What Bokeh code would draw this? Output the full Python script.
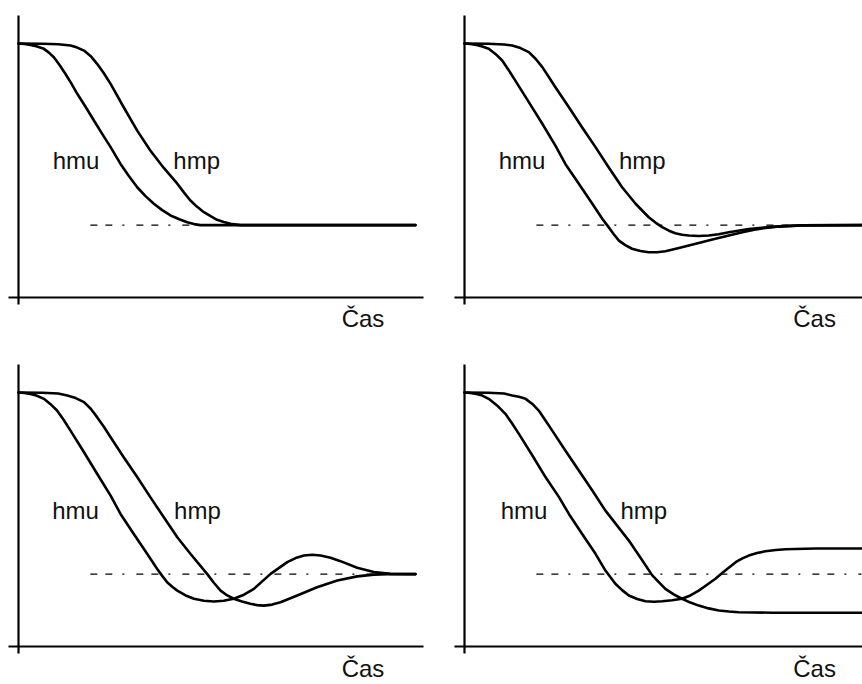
from bokeh.plotting import figure
from bokeh.layouts import column, row
from bokeh.models import LinearAxis, FixedTicker, Range1d
from bokeh.embed import file_html
from bokeh.resources import INLINE
from bokeh.core.properties import value

# ---------------- data (time in arbitrary units 0..10, level 0..100) ----------------
TIME_END = 10.0
SETPOINT = 28.5
DASH_START = 1.81

# Panel A (top-left): no overshoot
A_HMU_T = [0, 0.15, 0.3, 0.45, 0.64, 0.76, 0.89, 1.03, 1.18, 1.33, 1.48, 1.70, 1.90, 2.10, 2.32,
           2.57, 2.78, 2.99, 3.20, 3.41, 3.62, 3.83, 4.05, 4.25, 4.42, 4.58, 10]
A_HMU_H = [100, 99.8, 99.4, 98.9, 97.9, 96.5, 94.6, 91.6, 88.1, 84.3, 80.2, 74.8, 69.7, 64.6, 59.2,
           52.6, 47.8, 43.4, 39.9, 36.9, 34.4, 32.3, 30.8, 29.6, 28.9, 28.5, 28.5]
A_HMP_T = [0, 0.6, 1.0, 1.31, 1.48, 1.65, 1.82, 1.98, 2.15, 2.32, 2.65, 2.99, 3.32, 3.66, 4.00,
           4.17, 4.33, 4.50, 4.67, 4.85, 5.00, 5.17, 5.34, 5.59, 10]
A_HMP_H = [100, 99.9, 99.7, 99.2, 98.4, 97.2, 95.0, 92.0, 88.3, 84.1, 74.9, 65.7, 57.9, 51.0, 44.8,
           41.3, 38.2, 35.7, 33.6, 31.9, 30.6, 29.7, 29.0, 28.5, 28.5]

# Panel B (top-right): one undershoot
B_HMU_T = [0, 0.15, 0.3, 0.45, 0.61, 0.78, 0.95, 1.11, 1.28, 1.62, 1.96, 2.29, 2.54, 2.88, 3.22,
           3.47, 3.63, 3.76, 3.89, 4.05, 4.22, 4.43, 4.64, 4.85, 5.06, 5.35, 5.65, 6.32, 7.00,
           7.30, 7.58, 7.85, 8.09, 8.5, 10]
B_HMU_H = [100, 99.8, 99.4, 98.8, 97.9, 95.9, 93.3, 89.6, 85.4, 76.9, 68.4, 59.8, 52.6, 44.8, 36.9,
           31.0, 27.7, 24.9, 22.4, 20.6, 19.2, 18.3, 17.8, 17.8, 18.2, 19.3, 20.5, 23.1, 25.7,
           26.7, 27.4, 27.9, 28.1, 28.4, 28.5]
B_HMP_T = [0, 0.6, 1.0, 1.20, 1.41, 1.62, 1.79, 1.96, 2.12, 2.29, 2.63, 2.96, 3.30, 3.63, 3.97,
           4.31, 4.64, 4.81, 4.98, 5.15, 5.31, 5.48, 5.65, 5.90, 6.15, 6.40, 6.66, 7.16, 7.66,
           8.09, 8.5, 10]
B_HMP_H = [100, 99.9, 99.6, 99.2, 98.2, 96.6, 94.0, 90.7, 86.9, 82.8, 74.9, 67.0, 59.2, 51.3, 43.4,
           36.9, 31.6, 29.5, 27.7, 26.3, 25.3, 24.7, 24.4, 24.2, 24.4, 24.9, 25.7, 27.0, 27.7,
           28.1, 28.4, 28.5]

# Panel C (bottom-left): oscillation
C_HMU_T = [0, 0.15, 0.3, 0.45, 0.64, 0.80, 0.97, 1.14, 1.31, 1.65, 1.98, 2.32, 2.57, 2.90, 3.24,
           3.49, 3.62, 3.75, 3.88, 4.00, 4.21, 4.42, 4.67, 4.92, 5.17, 5.42, 5.68, 5.93, 6.35,
           6.77, 6.98, 7.19, 7.40, 7.61, 7.86, 8.11, 8.53, 8.95, 9.37, 10]
C_HMU_H = [100, 99.8, 99.4, 98.8, 97.5, 95.5, 92.9, 89.2, 85.0, 76.5, 68.0, 59.4, 52.2, 44.4, 36.5,
           30.6, 27.8, 25.2, 23.4, 22.0, 20.1, 18.8, 18.0, 17.7, 18.0, 18.8, 20.4, 22.7, 28.6,
           33.2, 34.8, 35.8, 36.1, 35.8, 34.9, 33.6, 31.0, 29.3, 28.6, 28.5]
C_HMP_T = [0, 0.6, 1.0, 1.23, 1.44, 1.65, 1.82, 1.98, 2.15, 2.32, 2.65, 2.99, 3.32, 3.66, 4.00,
           4.33, 4.75, 4.92, 5.09, 5.25, 5.42, 5.63, 5.84, 6.01, 6.18, 6.39, 6.60, 7.02, 7.52,
           8.03, 8.53, 8.95, 9.3, 10]
C_HMP_H = [100, 99.9, 99.6, 98.8, 97.8, 96.2, 93.6, 90.3, 86.5, 82.4, 74.5, 66.7, 58.8, 50.9, 43.0,
           36.5, 28.6, 25.1, 22.0, 20.2, 18.8, 17.7, 16.8, 16.3, 16.1, 16.5, 17.4, 20.1, 23.3,
           26.0, 27.6, 28.3, 28.5, 28.5]

# Panel D (bottom-right): curves settle apart
D_HMU_T = [0, 0.15, 0.3, 0.45, 0.61, 0.82, 1.03, 1.20, 1.37, 1.71, 2.04, 2.38, 2.63, 2.96, 3.30,
           3.55, 3.80, 3.97, 4.14, 4.35, 4.56, 4.77, 4.98, 5.23, 5.48, 5.69, 5.90, 6.11, 6.32,
           6.49, 6.83, 7.00, 7.16, 7.37, 7.58, 7.84, 8.09, 8.84, 10]
D_HMU_H = [100, 99.8, 99.4, 98.8, 97.5, 94.9, 91.6, 87.8, 83.7, 75.2, 66.7, 58.8, 52.2, 44.4, 36.5,
           29.9, 24.7, 22.2, 20.1, 18.7, 17.8, 17.6, 17.8, 18.2, 18.8, 20.1, 22.0, 24.3, 26.7,
           28.9, 33.2, 34.7, 35.8, 36.8, 37.5, 38.0, 38.3, 38.6, 38.6]
D_HMP_T = [0, 0.6, 1.0, 1.20, 1.37, 1.54, 1.71, 1.87, 2.04, 2.21, 2.54, 2.88, 3.22, 3.55, 4.14,
           4.48, 4.73, 5.06, 5.27, 5.48, 5.69, 5.90, 6.15, 6.41, 6.66, 6.91, 7.3, 7.75, 10]
D_HMP_H = [100, 99.9, 99.6, 98.8, 98.3, 97.5, 95.5, 92.9, 89.0, 85.0, 77.2, 69.3, 61.4, 53.5, 41.7,
           33.9, 28.0, 22.7, 20.5, 18.8, 17.3, 16.1, 15.0, 14.2, 13.8, 13.5, 13.4, 13.3, 13.3]

LABEL_TEXT = ["hmu", "hmp", "Čas"]
A_LABEL_T = [0.86, 3.90, 8.14]
A_LABEL_H = [53.9, 53.9, -8.3]
B_LABEL_T = [0.86, 3.89, 8.28]
B_LABEL_H = [53.9, 53.9, -8.3]
C_LABEL_T = [0.85, 3.92, 8.14]
C_LABEL_H = [53.5, 53.5, -8.7]
D_LABEL_T = [0.91, 3.93, 8.28]
D_LABEL_H = [53.5, 53.5, -8.7]

# ---------------- layout ----------------
W, H = 431, 342
PX_PER_T = 39.7
PX_PER_H = 2.54
X_AXIS_BOUNDS = (-0.25, 10.2)
Y_AXIS_BOUNDS = (-2.6, 111.2)
FONT = "Liberation Sans"


def make_panel(left_px, top_px, origin_px, curves, label_t, label_h):
    ox, oy = origin_px
    x0 = (left_px - ox) / PX_PER_T
    x1 = (left_px + W - ox) / PX_PER_T
    y0 = (oy - (top_px + H)) / PX_PER_H
    y1 = (oy - top_px) / PX_PER_H
    p = figure(width=W, height=H, x_range=Range1d(x0, x1), y_range=Range1d(y0, y1),
               x_axis_type=None, y_axis_type=None, toolbar_location=None,
               output_backend="svg", min_border=0, outline_line_color=None,
               background_fill_color="white", border_fill_color="white")
    common = dict(ticker=FixedTicker(ticks=[]), axis_line_width=2.2, axis_line_color="black",
                  major_tick_line_color=None, minor_tick_line_color=None,
                  major_label_text_font_size="0px")
    xa = LinearAxis(fixed_location=0, bounds=X_AXIS_BOUNDS, **common)
    ya = LinearAxis(fixed_location=0, bounds=Y_AXIS_BOUNDS, **common)
    p.add_layout(xa, "below")
    p.add_layout(ya, "left")

    p.line([DASH_START, TIME_END], [SETPOINT, SETPOINT], line_color="black",
           line_width=1.3, line_dash="7 8 7 10 2 12")
    for t, h in curves:
        p.line(t, h, line_color="black", line_width=2.6, line_join="round", line_cap="round")
    p.text(x=label_t, y=label_h, text=LABEL_TEXT, text_font=value(FONT),
           text_font_size="24px", text_align="left", text_baseline="alphabetic",
           text_color="#111111")
    return p


pA = make_panel(0, 0, (18, 297), [(A_HMU_T, A_HMU_H), (A_HMP_T, A_HMP_H)], A_LABEL_T, A_LABEL_H)
pB = make_panel(431, 0, (464, 297), [(B_HMU_T, B_HMU_H), (B_HMP_T, B_HMP_H)], B_LABEL_T, B_LABEL_H)
pC = make_panel(0, 342, (18, 646), [(C_HMU_T, C_HMU_H), (C_HMP_T, C_HMP_H)], C_LABEL_T, C_LABEL_H)
pD = make_panel(431, 342, (464, 646), [(D_HMU_T, D_HMU_H), (D_HMP_T, D_HMP_H)], D_LABEL_T, D_LABEL_H)

layout = column(row(pA, pB), row(pC, pD))

open("out.html", "w").write(file_html(layout, INLINE))
